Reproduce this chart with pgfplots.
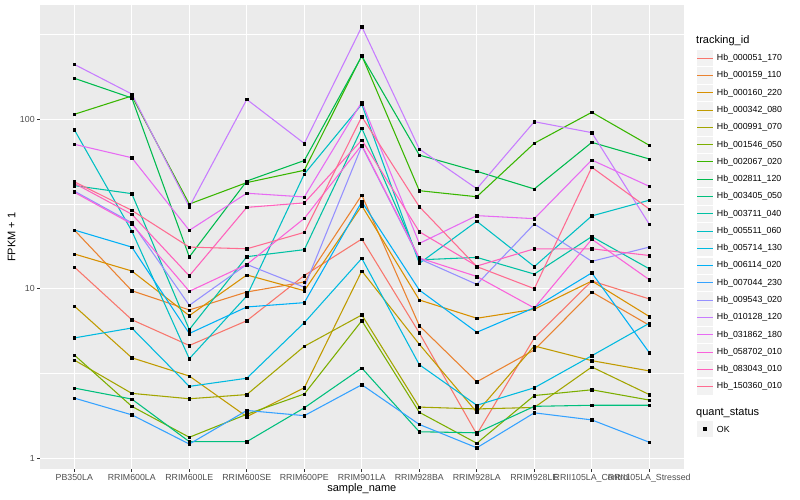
\documentclass[border=0pt]{standalone}
\usepackage{fontspec}
\setmainfont{Liberation Sans}
\usepackage{pgfplots}
\usepackage{pgfplotstable}
\pgfplotsset{compat=1.18}

% ggplot hue palette, 20 levels
\definecolor{c1}{HTML}{F8766D}
\definecolor{c2}{HTML}{EA8331}
\definecolor{c3}{HTML}{D89000}
\definecolor{c4}{HTML}{C09B00}
\definecolor{c5}{HTML}{A3A500}
\definecolor{c6}{HTML}{7CAE00}
\definecolor{c7}{HTML}{39B600}
\definecolor{c8}{HTML}{00BB4E}
\definecolor{c9}{HTML}{00BF7D}
\definecolor{c10}{HTML}{00C1A3}
\definecolor{c11}{HTML}{00BFC4}
\definecolor{c12}{HTML}{00BAE0}
\definecolor{c13}{HTML}{00B0F6}
\definecolor{c14}{HTML}{35A2FF}
\definecolor{c15}{HTML}{9590FF}
\definecolor{c16}{HTML}{C77CFF}
\definecolor{c17}{HTML}{E76BF3}
\definecolor{c18}{HTML}{FA62DB}
\definecolor{c19}{HTML}{FF62BC}
\definecolor{c20}{HTML}{FF6C91}
\definecolor{panel}{HTML}{EBEBEB}
\definecolor{keybg}{HTML}{F2F2F2}
\definecolor{grey30}{HTML}{4D4D4D}
\definecolor{grey20}{HTML}{333333}

% FPKM + 1, one column per tracking_id, one row per sample
\pgfplotstableread{
x  s1    s2    s3    s4    s5   s6    s7    s8    s9   s10   s11   s12  s13   s14  s15  s16  s17   s18  s19  s20
0  13.43 22.2  16.03 7.90  3.79 4.06  107.0 174.6 2.59 40.6  86.8  5.12 22.2  2.26 37.7 211  71.2  37.1 41.9 42.8
1  6.56  9.73  12.72 3.91  2.41 2.02  137.3 133.6 2.23 36.4  21.9  5.86 17.6  1.80 24.5 141  59.3  24.1 27.5 29.0
2  4.62  7.49  6.93  3.05  2.24 1.327 31.6  15.4  1.25 5.74  3.86  2.65 5.44  1.21 7.98 30.4 22.1  9.65 11.9 17.6
3  6.47  9.56  12.05 1.755 2.37 1.814 42.3  43.2  1.25 15.45 9.06  2.96 7.80  1.91 13.9 131  36.6  13.9 30.2 17.2
4  11.96 10.95 9.73  2.60  4.57 2.39  50.0  57.1  1.98 17.0  47.5  6.30 8.27  1.78 10.2 72.0 34.8  26.0 32.1 21.5
5  19.65 35.7  30.9  12.72 7.00 6.47  237.4 236   3.40 88.5  122.6 15.1 32.6  2.71 69.6 352  126.5 70.5 75.5 103.6
6  5.48  6.05  8.58  4.70  2.00 1.864 37.9  61.5  1.43 14.8  14.1  3.56 9.82  1.58 15.0 66.8 18.5  15.2 21.7 30.5
7  1.382 2.82  6.69  1.864 1.95 1.223 34.9  49.3  1.41 15.3  25.0  2.05 5.53  1.15 10.6 38.9 27.0  11.8 13.6 13.5
8  5.12  4.35  7.56  4.59  1.99 2.34  72.2  38.8  2.02 12.2  13.5  2.60 7.72  1.85 24.1 96.8 25.9  7.69 17.2 10.0
9  11.10 9.56  11.10 3.76  3.45 2.53  110.0 73.1  2.05 20.3  26.9  4.02 12.4  1.68 14.5 83.4 57.5  19.6 17.2 52.1
10 8.70  6.08  6.85  3.27  2.37 2.20  70.2  58.3  2.05 13.1  33.3  6.25 4.19  1.24 17.6 24.0 40.2  11.3 15.7 29.5
}\fpkm

\begin{document}
\begin{tikzpicture}[x=1pt,y=1pt]
\useasboundingbox (0,0) rectangle (800,500);
\begin{axis}[
    at={(39.8pt,31pt)}, anchor=south west,
    scale only axis, width=644pt, height=463.7pt,
    ymode=log, ymin=0.862, ymax=471,
    xmin=-0.6, xmax=10.6,
    axis background/.style={fill=panel},
    axis line style={draw=none},
    xtick={0,1,2,3,4,5,6,7,8,9,10},
    xticklabels={PB350LA,RRIM600LA,RRIM600LE,RRIM600SE,RRIM600PE,RRIM901LA,RRIM928BA,RRIM928LA,RRIM928LE,RRII105LA\_Control,RRII105LA\_Stressed},
    ytick={1,10,100}, yticklabels={1,10,100},
    minor ytick={3.16228,31.6228,316.228},
    xmajorgrids, ymajorgrids, yminorgrids,
    major grid style={white, line width=1.07pt},
    minor grid style={white, line width=0.53pt},
    tick align=outside, major tick length=2.75pt, minor tick length=0pt,
    tick style={grey20, line width=1.07pt},
    xtick pos=left, ytick pos=left,
    ticklabel style={font=\fontsize{8.8}{10}\selectfont, text=grey30},
    xticklabel style={inner sep=0pt, yshift=-2.2pt},
    yticklabel style={inner sep=0pt, xshift=-2.2pt},
    /pgf/number format/assume math mode=true,
]
\pgfplotsinvokeforeach{1,...,20}{
    \addplot[color=c#1, line width=1.07pt, mark=none] table[x=x, y=s#1] {\fpkm};
}
\pgfplotsinvokeforeach{1,...,20}{
    \addplot[only marks, mark=square*, mark size=1.25pt, black] table[x=x, y=s#1] {\fpkm};
}
\end{axis}

% axis titles
\node[font=\fontsize{11}{13}\selectfont, anchor=base] at (361.8,8) {sample\_name};
\node[font=\fontsize{11}{13}\selectfont, rotate=90, inner sep=0pt] at (11.5,262.8) {FPKM + 1};

% legend: tracking_id
\node[font=\fontsize{11}{13}\selectfont, anchor=west, inner sep=0pt] at (696,459.7) {tracking\_id};
\foreach \col/\name [count=\i from 0] in {
    c1/Hb\_000051\_170, c2/Hb\_000159\_110, c3/Hb\_000160\_220, c4/Hb\_000342\_080,
    c5/Hb\_000991\_070, c6/Hb\_001546\_050, c7/Hb\_002067\_020, c8/Hb\_002811\_120,
    c9/Hb\_003405\_050, c10/Hb\_003711\_040, c11/Hb\_005511\_060, c12/Hb\_005714\_130,
    c13/Hb\_006114\_020, c14/Hb\_007044\_230, c15/Hb\_009543\_020, c16/Hb\_010128\_120,
    c17/Hb\_031862\_180, c18/Hb\_058702\_010, c19/Hb\_083043\_010, c20/Hb\_150360\_010} {
    \pgfmathsetmacro\yy{441.7-17.28*\i}
    % key line snapped to a pixel row so that it stays crisp
    \pgfmathsetmacro\ly{500-(floor(58.3+17.28*\i)+0.5)}
    \fill[keybg] (696.9,\yy-8.1) rectangle (713.1,\yy+8.1);
    \draw[color=\col, line width=1.07pt] (697.4,\ly) -- (712.6,\ly);
    \node[font=\fontsize{8.8}{10}\selectfont, anchor=west, inner sep=0pt] at (716.7,\yy) {\name};
}

% legend: quant_status
\node[font=\fontsize{11}{13}\selectfont, anchor=west, inner sep=0pt] at (696,87.3) {quant\_status};
\fill[keybg] (696.9,62.9) rectangle (713.1,79.1);
\fill[black] (703.35,69.35) rectangle (706.65,72.65);
\node[font=\fontsize{8.8}{10}\selectfont, anchor=west, inner sep=0pt] at (716.7,71) {OK};
\end{tikzpicture}
\end{document}
